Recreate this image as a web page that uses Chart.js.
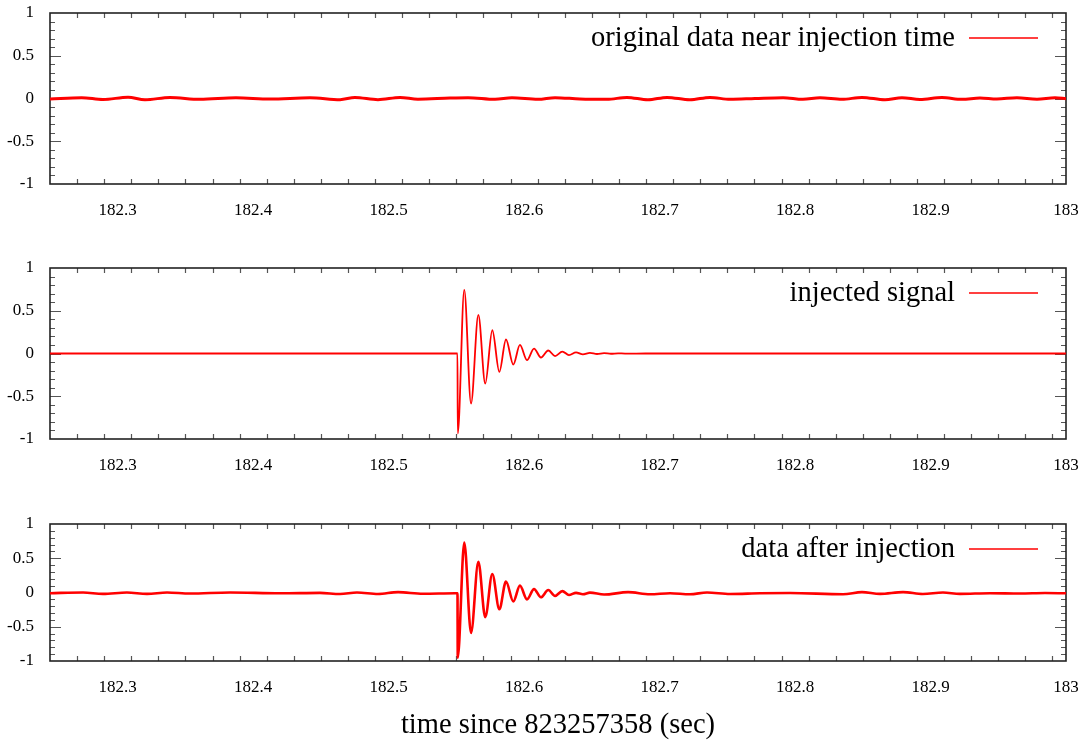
<!DOCTYPE html>
<html>
<head>
<meta charset="utf-8">
<script src="https://cdn.jsdelivr.net/npm/chart.js@4/dist/chart.umd.min.js"></script>
<style>
  body { margin: 0; background: #fff; }
  canvas { position: absolute; left: 0; }
</style>
</head>
<body>
<canvas id="chartOriginal" width="1089" height="250" style="top:0px"></canvas>
<canvas id="chartSignal" width="1089" height="255" style="top:250px"></canvas>
<canvas id="chartAfter" width="1089" height="238" style="top:505px"></canvas>
<script>
const xTicks = [182.3, 182.4, 182.5, 182.6, 182.7, 182.8, 182.9, 183];
const yTicks = [-1, -0.5, 0, 0.5, 1];
const xTitle = 'time since 823257358 (sec)';

// original data near injection time
const originalTime = [182.2500, 182.2734, 182.2891, 182.3076, 182.3201, 182.3386, 182.3607, 182.3873,
  182.4124, 182.4419, 182.4641, 182.4751, 182.4921, 182.5084, 182.5216, 182.5453, 182.5586, 182.5785,
  182.5910, 182.6102, 182.6228, 182.6412, 182.6612, 182.6759, 182.6914, 182.7055, 182.7224, 182.7372,
  182.7520, 182.7704, 182.7911, 182.8058, 182.8184, 182.8346, 182.8494, 182.8664, 182.8789, 182.8922,
  182.9084, 182.9232, 182.9365, 182.9490, 182.9638, 182.9786, 182.9919, 183.0000];
const originalValue = [-0.005, 0.010, -0.012, 0.015, -0.015, 0.012, -0.010, 0.008,
  -0.006, 0.008, -0.014, 0.012, -0.014, 0.012, -0.008, 0.006, 0.010, -0.010,
  0.008, -0.010, 0.010, -0.006, -0.010, 0.013, -0.015, 0.013, -0.015, 0.013,
  -0.010, 0.000, 0.010, -0.010, 0.008, -0.010, 0.013, -0.015, 0.010, -0.012,
  0.012, -0.010, 0.006, -0.006, 0.010, -0.008, 0.008, -0.002];

// injected signal
const signalTime = [182.2500, 182.5508, 182.5510, 182.5558, 182.5608, 182.5662, 182.5713, 182.5765,
  182.5817, 182.5866, 182.5920, 182.5969, 182.6021, 182.6073, 182.6124, 182.6178, 182.6228, 182.6282,
  182.6331, 182.6383, 182.6434, 182.6486, 182.6538, 182.6590, 182.6641, 182.6693, 182.6745, 182.6900,
  183.0000];
const signalValue = [0, 0, -0.936, 0.744, -0.585, 0.451, -0.351, 0.272,
  -0.215, 0.164, -0.129, 0.100, -0.078, 0.058, -0.047, 0.035, -0.030, 0.022,
  -0.018, 0.013, -0.010, 0.008, -0.006, 0.004, -0.003, 0.002, -0.001, 0,
  0];

// data after injection
const afterTime = [182.2500, 182.2744, 182.2891, 182.3068, 182.3216, 182.3364, 182.3533, 182.3829,
  182.4198, 182.4493, 182.4641, 182.4766, 182.4921, 182.5069, 182.5253, 182.5490, 182.5508, 182.5510,
  182.5558, 182.5608, 182.5662, 182.5713, 182.5765, 182.5817, 182.5866, 182.5920, 182.5969, 182.6021,
  182.6073, 182.6124, 182.6178, 182.6228, 182.6282, 182.6331, 182.6383, 182.6434, 182.6486, 182.6590,
  182.6767, 182.6929, 182.7077, 182.7224, 182.7350, 182.7520, 182.7741, 182.7963, 182.8354, 182.8494,
  182.8627, 182.8797, 182.8944, 182.9092, 182.9217, 182.9439, 182.9660, 182.9845, 183.0000];
const afterValue = [-0.010, 0.000, -0.020, 0.000, -0.020, 0.000, -0.015, 0.000,
  -0.012, -0.005, -0.022, 0.000, -0.022, 0.005, -0.018, -0.010, -0.010, -0.950,
  0.730, -0.590, 0.450, -0.360, 0.270, -0.245, 0.160, -0.130, 0.100, -0.100,
  0.050, -0.070, 0.036, -0.050, 0.020, -0.036, -0.005, -0.025, -0.002, -0.030,
  0.005, -0.025, -0.010, -0.025, 0.000, -0.022, -0.012, -0.008, -0.025, 0.005,
  -0.020, 0.005, -0.022, 0.000, -0.020, -0.010, -0.015, -0.008, -0.012];

const serif = '"Liberation Serif", "Times New Roman", serif';

// gnuplot style border with inward ticks on all four sides
const boxTicks = {
  id: 'boxTicks',
  beforeDatasetsDraw(chart) {
    const {ctx, chartArea: a, scales: {x, y}} = chart;
    ctx.save();
    ctx.strokeStyle = '#555';
    ctx.lineWidth = 1.2;
    ctx.beginPath();
    for (let i = 1; i < 38; i++) {
      const v = 182.25 + i * 0.02;
      const major = Math.abs(v * 10 - Math.round(v * 10)) < 1e-6;
      const len = major ? 11 : 5;
      const px = Math.round(x.getPixelForValue(v)) + 0.5;
      ctx.moveTo(px, a.bottom); ctx.lineTo(px, a.bottom - len);
      ctx.moveTo(px, a.top); ctx.lineTo(px, a.top + len);
    }
    for (let i = -9; i <= 9; i++) {
      const len = i % 5 === 0 ? 11 : 5;
      const py = Math.round(y.getPixelForValue(i / 10)) + 0.5;
      ctx.moveTo(a.left, py); ctx.lineTo(a.left + len, py);
      ctx.moveTo(a.right, py); ctx.lineTo(a.right - len, py);
    }
    ctx.stroke();
    ctx.strokeStyle = '#222';
    ctx.lineWidth = 1.6;
    ctx.strokeRect(a.left, a.top, a.right - a.left, a.bottom - a.top);
    ctx.restore();
  }
};

// key in the top right corner, inside the plot
const gnuKey = {
  id: 'gnuKey',
  afterDraw(chart) {
    const {ctx, chartArea: a} = chart;
    const ds = chart.data.datasets[0];
    const y = a.top + 25;
    ctx.save();
    ctx.font = '28.5px ' + serif;
    ctx.fillStyle = '#000';
    ctx.textAlign = 'right';
    ctx.textBaseline = 'middle';
    ctx.fillText(ds.label, a.right - 111, y + 1);
    ctx.strokeStyle = ds.borderColor;
    ctx.lineWidth = 1.5;
    ctx.beginPath();
    ctx.moveTo(a.right - 97, y);
    ctx.lineTo(a.right - 28, y);
    ctx.stroke();
    ctx.restore();
  }
};

function makePanel(id, label, times, values, lineWidth, topPad, bottomY, showTitle) {
  const canvas = document.getElementById(id);
  const h = canvas.height;
  const points = times.map((t, i) => ({x: t, y: values[i]}));
  return new Chart(canvas, {
    type: 'line',
    data: {
      datasets: [{
        label: label,
        data: points,
        borderColor: 'rgb(255, 0, 0)',
        borderWidth: lineWidth,
        pointRadius: 0,
        cubicInterpolationMode: 'monotone',
        fill: false
      }]
    },
    options: {
      responsive: false,
      animation: false,
      devicePixelRatio: 1,
      layout: {padding: {top: topPad, right: 23, left: 0, bottom: 0}},
      plugins: {legend: {display: false}, tooltip: {enabled: false}},
      scales: {
        x: {
          type: 'linear', min: 182.25, max: 183,
          grid: {display: false, drawTicks: false},
          border: {display: false},
          afterBuildTicks: s => { s.ticks = xTicks.map(v => ({value: v})); },
          afterFit: s => {
            s.height = h - bottomY;
            s.paddingLeft = 0;
            s.paddingRight = 0;
          },
          ticks: {padding: 16, color: '#000', maxRotation: 0, autoSkip: false,
                  font: {family: serif, size: 17}, callback: v => String(v)},
          title: {display: showTitle, text: xTitle, color: '#000', padding: 0,
                  font: {family: serif, size: 28.5}}
        },
        y: {
          min: -1, max: 1,
          grid: {display: false, drawTicks: false},
          border: {display: false},
          afterBuildTicks: s => { s.ticks = yTicks.map(v => ({value: v})); },
          afterFit: s => {
            s.width = 50;
            s.paddingTop = 0;
            s.paddingBottom = 0;
          },
          ticks: {padding: 16, color: '#000', font: {family: serif, size: 17},
                  callback: v => String(v)}
        }
      }
    },
    plugins: [boxTicks, gnuKey]
  });
}

makePanel('chartOriginal', 'original data near injection time', originalTime, originalValue, 3, 13, 184, false);
makePanel('chartSignal', 'injected signal', signalTime, signalValue, 1.8, 18, 189, false);
makePanel('chartAfter', 'data after injection', afterTime, afterValue, 2.6, 19, 156, true);
</script>
</body>
</html>
